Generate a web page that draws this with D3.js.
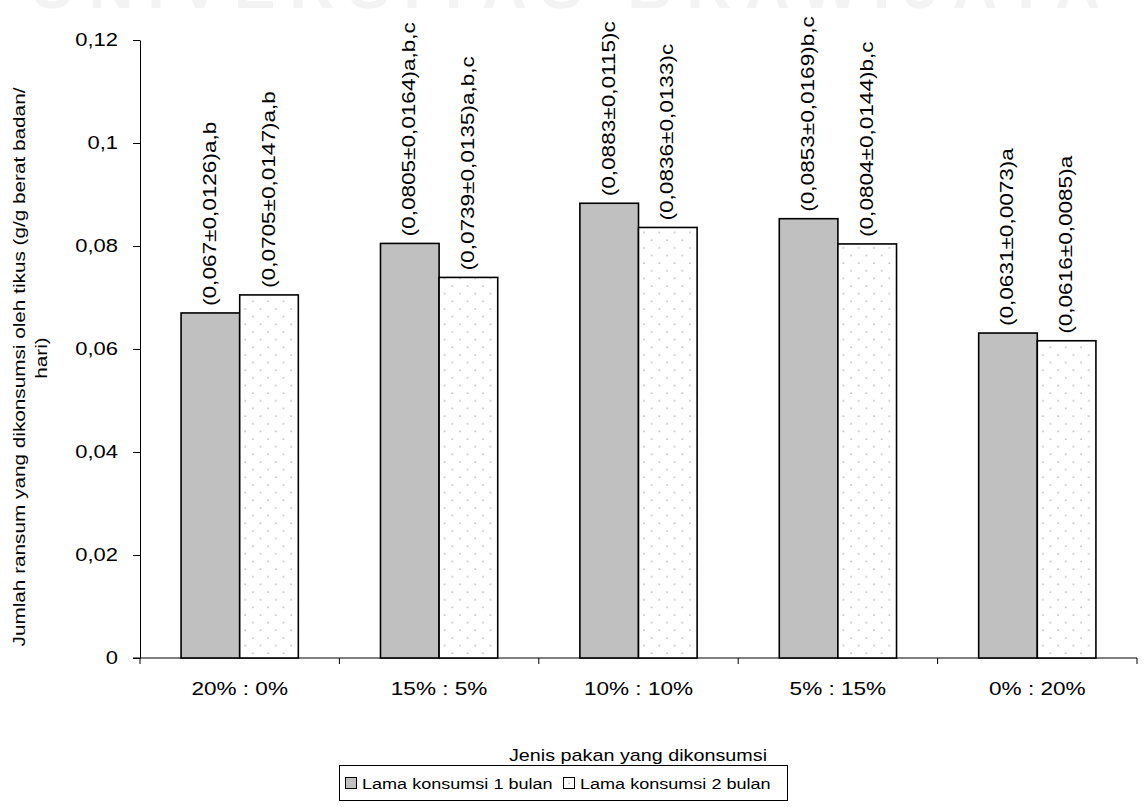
<!DOCTYPE html>
<html>
<head>
<meta charset="utf-8">
<script src="https://cdn.jsdelivr.net/npm/d3@7/dist/d3.min.js"></script>
<style>
  html, body { margin: 0; padding: 0; background: #fff; }
  svg text { font-family: Arial, "Liberation Sans", sans-serif; fill: #000; }
</style>
</head>
<body>
<svg id="chart" width="1144" height="807"></svg>
<script>
// Feed ratio categories and consumption means (g/g body weight/day)
const categories = ["20% : 0%", "15% : 5%", "10% : 10%", "5% : 15%", "0% : 20%"];
const seriesNames = ["Lama konsumsi 1 bulan", "Lama konsumsi 2 bulan"];
const month1 = [0.067, 0.0805, 0.0883, 0.0853, 0.0631];
const month2 = [0.0705, 0.0739, 0.0836, 0.0804, 0.0616];
const month1Labels = ["(0,067±0,0126)a,b", "(0,0805±0,0164)a,b,c", "(0,0883±0,0115)c", "(0,0853±0,0169)b,c", "(0,0631±0,0073)a"];
const month2Labels = ["(0,0705±0,0147)a,b", "(0,0739±0,0135)a,b,c", "(0,0836±0,0133)c", "(0,0804±0,0144)b,c", "(0,0616±0,0085)a"];
const yTicks = [0, 0.02, 0.04, 0.06, 0.08, 0.1, 0.12];
const yTickLabels = ["0", "0,02", "0,04", "0,06", "0,08", "0,1", "0,12"];

const svg = d3.select("#chart");
const plotL = 140, plotR = 1137, plotT = 40, plotB = 658;
const WIDE = 1.22; // horizontally widened lettering

// faint banner text along the top edge
svg.append("text")
  .attr("x", 572).attr("y", 8)
  .attr("text-anchor", "middle")
  .style("font-size", "62px").style("font-weight", "bold")
  .style("fill", "#f3f3f3").style("letter-spacing", "14px")
  .text("UNIVERSITAS BRAWIJAYA");

const defs = svg.append("defs");
const pat = defs.append("pattern")
  .attr("id", "dots").attr("patternUnits", "userSpaceOnUse")
  .attr("width", 15.3).attr("height", 15.3);
pat.append("rect").attr("width", 15.3).attr("height", 15.3).attr("fill", "#fff");
pat.append("circle").attr("cx", 3).attr("cy", 3).attr("r", 0.9).attr("fill", "#bdbdbd");
pat.append("circle").attr("cx", 10.65).attr("cy", 10.65).attr("r", 0.9).attr("fill", "#bdbdbd");

const x = d3.scaleBand().domain(categories).range([plotL, plotR]).padding(0);
const groupW = x.bandwidth() * 0.588;
const x1 = d3.scaleBand().domain(seriesNames).range([0, groupW]).padding(0);
const y = d3.scaleLinear().domain([0, 0.12]).range([plotB, plotT]);

// y axis
const yAxis = d3.axisLeft(y).tickValues(yTicks).tickFormat((d, i) => yTickLabels[i]).tickSize(7).tickSizeOuter(0);
const gy = svg.append("g").attr("transform", `translate(${plotL},0)`).call(yAxis);
gy.select(".domain").attr("stroke", "#000").attr("stroke-width", 1);
gy.selectAll(".tick line").attr("stroke", "#000");
gy.selectAll(".tick text")
  .attr("x", -22 / WIDE).attr("dy", "0.3em")
  .attr("transform", `scale(${WIDE},1)`)
  .style("font-size", "18px").style("font-family", "Arial, 'Liberation Sans', sans-serif");

// x axis with ticks at category boundaries
svg.append("line").attr("x1", plotL - 7).attr("x2", plotR).attr("y1", plotB).attr("y2", plotB)
  .attr("stroke", "#000").attr("stroke-width", 1);
const bounds = categories.map(c => x(c)).concat([plotR]);
svg.append("g").selectAll("line").data(bounds).join("line")
  .attr("x1", d => d).attr("x2", d => d).attr("y1", plotB).attr("y2", plotB + 6)
  .attr("stroke", "#000");
svg.append("g").selectAll("text").data(categories).join("text")
  .attr("transform", d => `translate(${x(d) + x.bandwidth() / 2},695) scale(${WIDE},1)`)
  .attr("text-anchor", "middle").style("font-size", "18.5px")
  .text(d => d);

// bars
const rows = categories.map((c, i) => ({
  cat: c,
  vals: [
    { s: seriesNames[0], v: month1[i], label: month1Labels[i] },
    { s: seriesNames[1], v: month2[i], label: month2Labels[i] }
  ]
}));
const groups = svg.append("g").selectAll("g").data(rows).join("g")
  .attr("transform", d => `translate(${x(d.cat) + (x.bandwidth() - groupW) / 2},0)`);
groups.selectAll("rect").data(d => d.vals).join("rect")
  .attr("x", d => x1(d.s)).attr("width", x1.bandwidth())
  .attr("y", d => y(d.v)).attr("height", d => plotB - y(d.v))
  .attr("fill", (d, i) => i === 0 ? "#c0c0c0" : "url(#dots)")
  .attr("stroke", "#000").attr("stroke-width", 1.6);
groups.selectAll("text").data(d => d.vals).join("text")
  .attr("transform", d => `translate(${x1(d.s) + x1.bandwidth() / 2 + 5.5},${y(d.v) - 7}) rotate(-90) scale(${WIDE},1)`)
  .style("font-size", "18.5px")
  .text(d => d.label);

// axis titles
svg.append("text")
  .attr("transform", `translate(25,367) rotate(-90) scale(${WIDE},1)`)
  .attr("text-anchor", "middle").style("font-size", "17px")
  .text("Jumlah ransum yang dikonsumsi oleh tikus (g/g berat badan/");
svg.append("text")
  .attr("transform", `translate(47,358) rotate(-90) scale(${WIDE},1)`)
  .attr("text-anchor", "middle").style("font-size", "17px")
  .text("hari)");
svg.append("text")
  .attr("transform", `translate(638,761) scale(${WIDE},1)`)
  .attr("text-anchor", "middle")
  .style("font-size", "16.2px")
  .text("Jenis pakan yang dikonsumsi");

// legend
const lg = svg.append("g");
lg.append("rect").attr("x", 339.5).attr("y", 765.5).attr("width", 448).attr("height", 35)
  .attr("fill", "#fff").attr("stroke", "#000").attr("stroke-width", 1);
const legendItems = [
  { name: seriesNames[0], fill: "#c0c0c0", sx: 345, tx: 362 },
  { name: seriesNames[1], fill: "url(#dots)", sx: 563, tx: 580 }
];
legendItems.forEach(it => {
  lg.append("rect").attr("x", it.sx + 0.5).attr("y", 777.5).attr("width", 11).attr("height", 11)
    .attr("fill", it.fill).attr("stroke", "#000").attr("stroke-width", 1);
  lg.append("text").attr("transform", `translate(${it.tx},789) scale(${WIDE},1)`)
    .style("font-size", "14.8px").text(it.name);
});
</script>
</body>
</html>
